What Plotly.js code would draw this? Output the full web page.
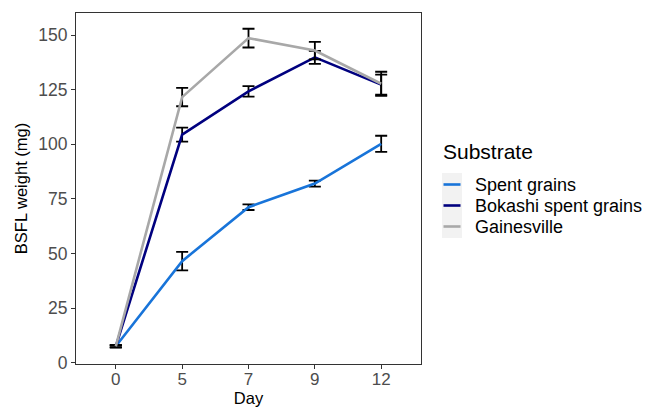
<!DOCTYPE html>
<html>
<head>
<meta charset="utf-8">
<script src="https://cdn.plot.ly/plotly-3.0.1.min.js"></script>
<style>html,body{margin:0;padding:0;background:#fff;}#chart{width:648px;height:407px;}</style>
</head>
<body>
<div id="chart"></div>
<script>
var days = ['0', '5', '7', '9', '12'];
var seriesNames = ['Spent grains', 'Bokashi spent grains', 'Gainesville'];
var spentGrains = [7.5, 46.5, 71.2, 82.0, 100.2];
var spentGrainsErr = [0.5, 4.2, 1.3, 1.4, 3.7];
var bokashi = [7.5, 104.4, 124.2, 139.8, 127.3];
var bokashiErr = [0.5, 3.2, 2.4, 3.0, 4.6];
var gainesville = [7.5, 121.6, 148.6, 142.9, 127.7];
var gainesvilleErr = [0.5, 4.2, 4.3, 4.0, 5.5];
var yTicks = [0, 25, 50, 75, 100, 125, 150];
var legendTitle = 'Substrate';

var colors = ['#1874D9', '#00007F', '#A8A8A8'];
var values = [spentGrains, bokashi, gainesville];
var errs = [spentGrainsErr, bokashiErr, gainesvilleErr];

var traces = values.map(function (v, i) {
  return {
    type: 'scatter',
    mode: 'lines',
    x: days,
    y: v,
    name: seriesNames[i],
    showlegend: false,
    line: {color: colors[i], width: 2.6},
    error_y: {type: 'data', array: errs[i], visible: true, color: '#000', thickness: 1.8, width: 6}
  };
});

// geometry helpers (pixel -> paper) for the hand-built ggplot-style legend
var M = {l: 76, r: 227, t: 13, b: 43};
var PW = 648 - M.l - M.r, PH = 407 - M.t - M.b;
function px(x) { return (x - M.l) / PW; }
function py(y) { return (407 - M.b - y) / PH; }

var font = 'Liberation Sans, Arial, sans-serif';
var shapes = [{
  type: 'rect', xref: 'paper', yref: 'paper', layer: 'below',
  x0: px(442), x1: px(462), y0: py(238), y1: py(173),
  fillcolor: '#F2F2F2', line: {width: 0}
}];
var annotations = [{
  xref: 'paper', yref: 'paper', x: px(441), y: py(151), xanchor: 'left', yanchor: 'middle',
  showarrow: false, text: legendTitle, font: {size: 21, color: '#000', family: font}
}];
var itemY = [184.5, 205.5, 226.5];
seriesNames.forEach(function (n, i) {
  shapes.push({
    type: 'line', xref: 'paper', yref: 'paper', layer: 'above',
    x0: px(443.5), x1: px(460.5), y0: py(itemY[i]), y1: py(itemY[i]),
    line: {color: colors[i], width: 2.6}
  });
  annotations.push({
    xref: 'paper', yref: 'paper', x: px(472.5), y: py(itemY[i]), xanchor: 'left', yanchor: 'middle',
    showarrow: false, text: n, font: {size: 18, color: '#000', family: font}
  });
});

var layout = {
  width: 648, height: 407,
  margin: M,
  paper_bgcolor: '#fff', plot_bgcolor: '#fff',
  font: {family: font, color: '#000'},
  showlegend: false,
  xaxis: {
    type: 'category', range: [-0.6, 4.6],
    showgrid: false, zeroline: false,
    showline: true, mirror: true, linecolor: '#333', linewidth: 1,
    ticks: 'outside', ticklen: 4, tickcolor: '#333', tickwidth: 1,
    ticklabelstandoff: -4,
    tickfont: {size: 17, color: '#4D4D4D', family: font},
    title: {text: 'Day', font: {size: 16.5, color: '#000', family: font}, standoff: 2}
  },
  yaxis: {
    range: [-0.6, 160.1],
    tickvals: yTicks,
    showgrid: false, zeroline: false,
    showline: true, mirror: true, linecolor: '#333', linewidth: 1,
    ticks: 'outside', ticklen: 4, tickcolor: '#333', tickwidth: 1,
    tickfont: {size: 17.5, color: '#4D4D4D', family: font},
    title: {text: 'BSFL weight (mg)', font: {size: 16.5, color: '#000', family: font}, standoff: 6}
  },
  shapes: shapes,
  annotations: annotations
};

Plotly.newPlot('chart', traces, layout, {displayModeBar: false, staticPlot: true});
</script>
</body>
</html>
